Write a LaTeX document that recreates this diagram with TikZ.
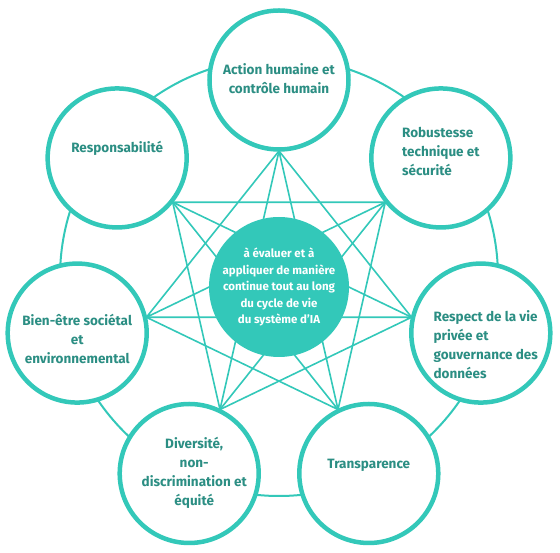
\documentclass[tikz,border=0pt]{standalone}
\usepackage{fontspec}
\setmainfont{Fira Sans}

\definecolor{turq}{HTML}{33C8B9}
\definecolor{tealtext}{HTML}{2B8E83}

\tikzset{
  pillar/.style={circle,draw=turq,line width=4.5pt,fill=white,minimum size=139pt,inner sep=0pt},
  pillartext/.style={text=tealtext,font=\bfseries\fontsize{13.5}{19}\selectfont,inner sep=0pt},
  link/.style={draw=turq,line width=1.6pt},
}

\begin{document}
\begin{tikzpicture}[x=1pt,y=1pt]
\useasboundingbox (-279,-266) rectangle (281,287);

% outer ring
\draw[turq,line width=2pt] (0,10) circle (219);

% star between the seven requirements
\foreach \i in {0,...,6}
  \coordinate (p\i) at (90-\i*360/7:136);
\foreach \i in {0,...,6}{
  \pgfmathtruncatemacro\j{mod(\i+2,7)}
  \pgfmathtruncatemacro\k{mod(\i+3,7)}
  \draw[link] (p\i) -- (p\j) (p\i) -- (p\k);
}

\node[circle,fill=turq,minimum size=140pt] (core) at (0,0) {};
\node[text=white,font=\bfseries\fontsize{11.5}{16.5}\selectfont,align=center] (coretext) at (core) {
  à évaluer et à\\appliquer de manière\\continue tout au long\\du cycle de vie\\du système d’IA};

\node[pillar] (action) at (90:207) {};
\node[pillar] (robust) at (38.57:207) {};
\node[pillar] (privacy) at (-12.86:207) {};
\node[pillar] (transp) at (-64.29:207) {};
\node[pillar] (divers) at (-115.71:207) {};
\node[pillar] (wellbeing) at (-167.14:207) {};
\node[pillar] (account) at (141.43:207) {};

\node[pillartext,align=center] (action-t) at ([yshift=1pt]action.center) {Action humaine et\\contrôle humain};
\node[pillartext,align=left] (robust-t) at ([yshift=6pt]robust.center) {Robustesse\\technique et\\sécurité};
\node[pillartext,align=left] (privacy-t) at ([xshift=5pt,yshift=-12pt]privacy.center) {Respect de la vie\\privée et\\gouvernance des\\données};
\node[pillartext] (transp-t) at ([yshift=8pt]transp.center) {Transparence};
\node[pillartext,align=center] (divers-t) at ([xshift=5pt,yshift=1pt]divers.center) {Diversité,\\non-\\discrimination et\\équité};
\node[pillartext,align=center] (wellbeing-t) at ([yshift=-6pt]wellbeing.center) {Bien-être sociétal\\et\\environnemental};
\node[pillartext] (account-t) at ([yshift=10pt]account.center) {Responsabilité};
\end{tikzpicture}
\end{document}
